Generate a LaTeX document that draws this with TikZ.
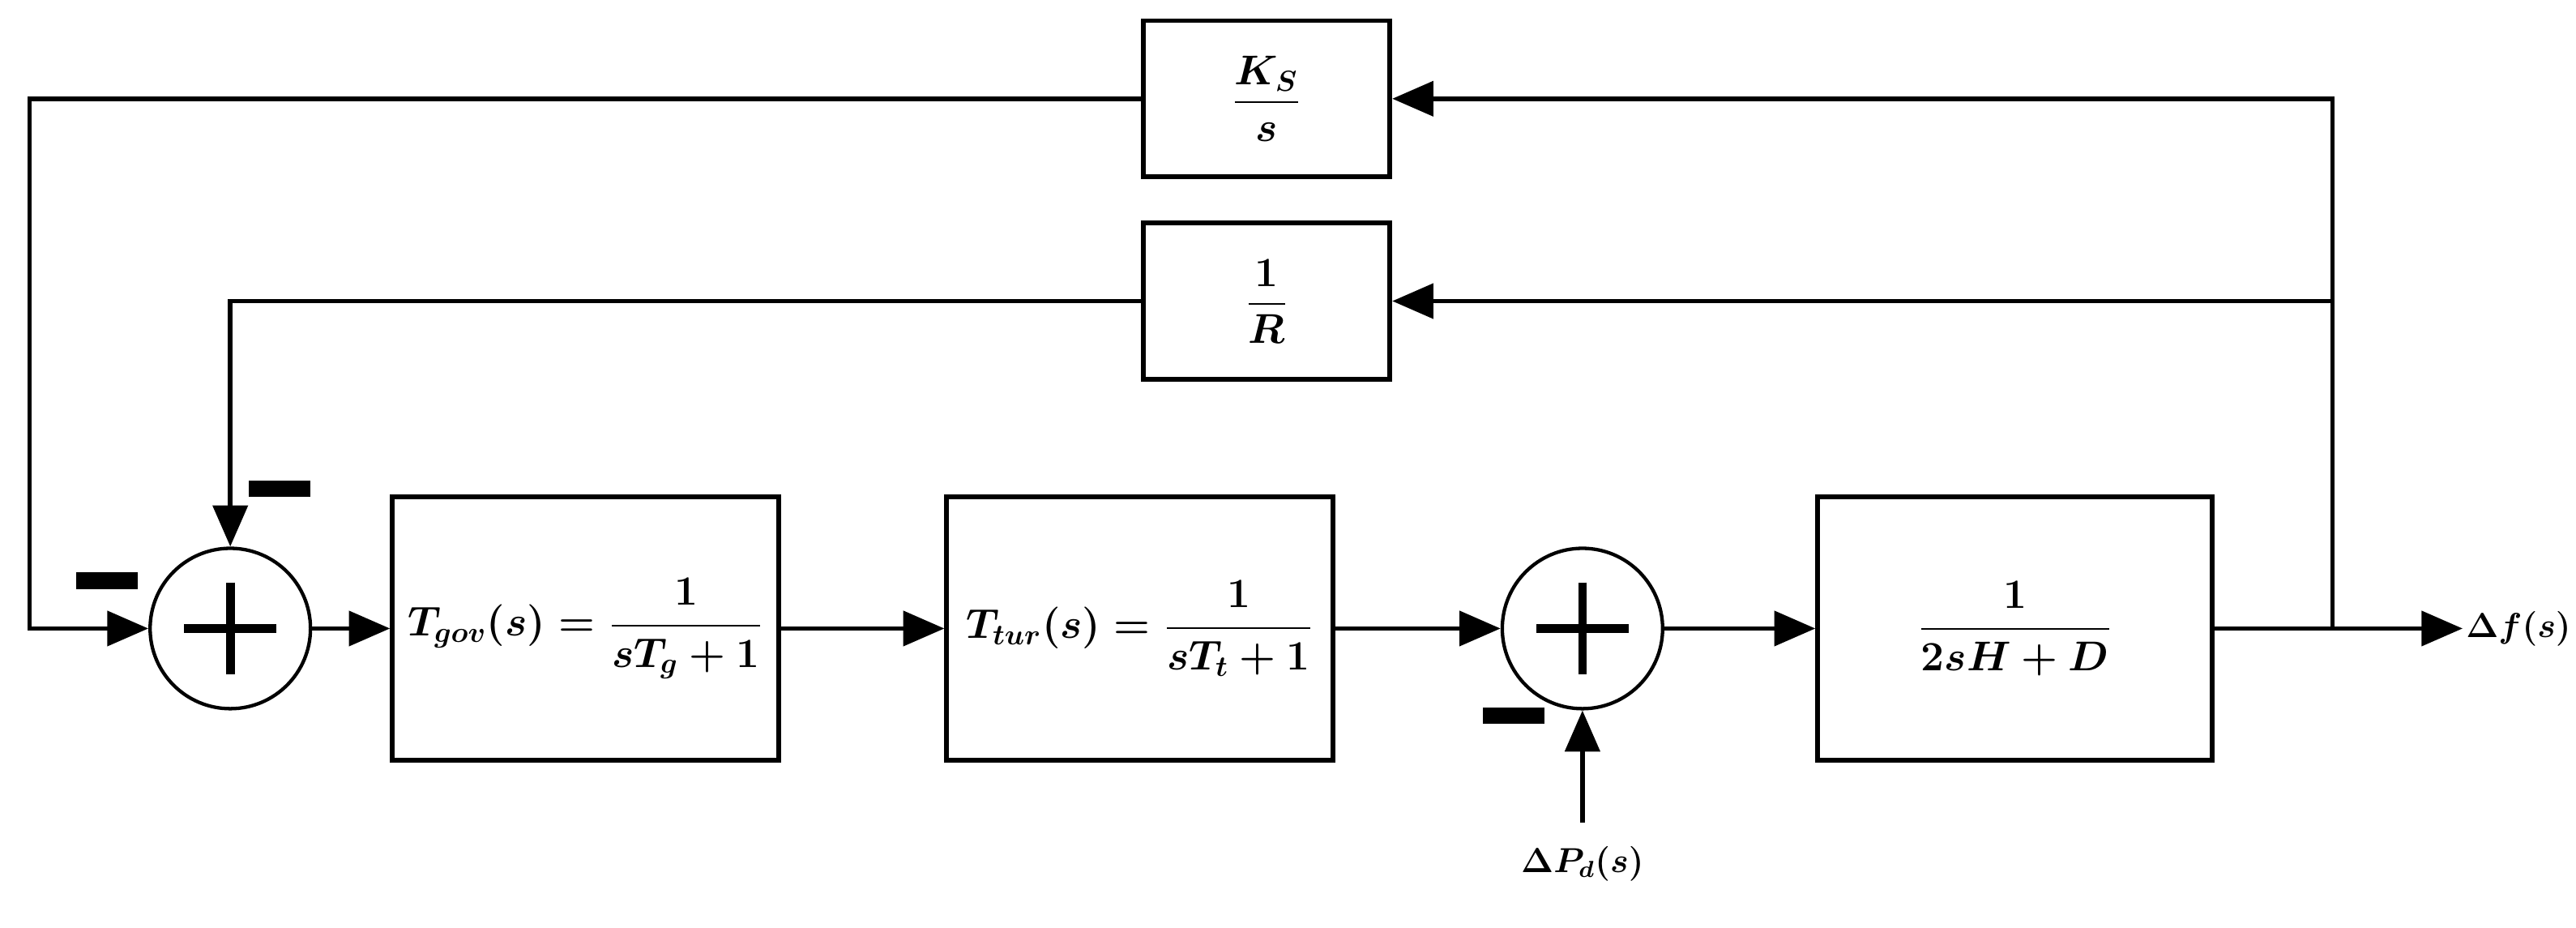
\documentclass[tikz,border=0pt]{standalone}
\usepackage{amsmath}
\usetikzlibrary{arrows.meta}
\begin{document}
\begin{tikzpicture}[x=0.02cm,y=-0.02cm,
  blk/.style={draw,line width=1.6pt,minimum width=4.7cm,minimum height=3.2cm,inner sep=0pt,font=\Large},
  fb/.style={draw,line width=1.6pt,minimum width=3cm,minimum height=1.9cm,inner sep=0pt,font=\Large},
  sum/.style={draw,circle,line width=1.2pt,minimum size=1.95cm,inner sep=0pt},
  arr/.style={line width=1.6pt,-{Triangle[length=0.5cm,width=0.42cm]}},
  ln/.style={line width=1.6pt},
  minus/.style={fill=black,minimum width=0.75cm,minimum height=0.2cm,inner sep=0pt}]
\useasboundingbox (0,0) rectangle (1566,564);
\node[fb] (ks) at (770,60) {$\dfrac{\boldsymbol{K_S}}{\boldsymbol{s}}$};
\node[fb] (r) at (770,183) {$\dfrac{\mathbf{1}}{\boldsymbol{R}}$};
\node[sum] (s1) at (140,382) {};
\draw[line width=3pt] (s1.center) ++(-28,0) -- ++(56,0) (s1.center) ++(0,-28) -- ++(0,56);
\node[blk] (gov) at (356,382) {$\boldsymbol{T_{gov}(s)=\dfrac{1}{sT_g+1}}$};
\node[blk] (tur) at (693,382) {$\boldsymbol{T_{tur}(s)=\dfrac{1}{sT_t+1}}$};
\node[sum] (s2) at (962,382) {};
\draw[line width=3pt] (s2.center) ++(-28,0) -- ++(56,0) (s2.center) ++(0,-28) -- ++(0,56);
\node[blk,minimum width=4.8cm] (pl) at (1225,382) {$\boldsymbol{\dfrac{1}{2sH+D}}$};
\coordinate (br) at (1418,382);
\coordinate (tl) at (18,60);
\coordinate (tr) at (1418,60);
\coordinate (ml) at (140,183);
\coordinate (pd) at (962,500);
\node[anchor=east,font=\large,inner sep=1pt] (df) at (1565,382) {$\boldsymbol{\Delta f(s)}$};
\node[font=\large] (pdl) at (962,525) {$\boldsymbol{\Delta P_d(s)}$};
\draw[arr] (s1) -- (gov);
\draw[arr] (gov) -- (tur);
\draw[arr] (tur) -- (s2);
\draw[arr] (s2) -- (pl);
\draw[arr] (pl) -- (df);
\draw[arr] (br) |- (ks);
\draw[arr] (br |- r) -- (r);
\draw[arr] (ks) -| (tl) |- (s1);
\draw[arr] (r) -| (s1);
\draw[arr] (pd) -- (s2);
\node[minus] (m1) at (65,353) {};
\node[minus] (m2) at (170,297) {};
\node[minus] (m3) at (920,435) {};
\end{tikzpicture}
\end{document}
